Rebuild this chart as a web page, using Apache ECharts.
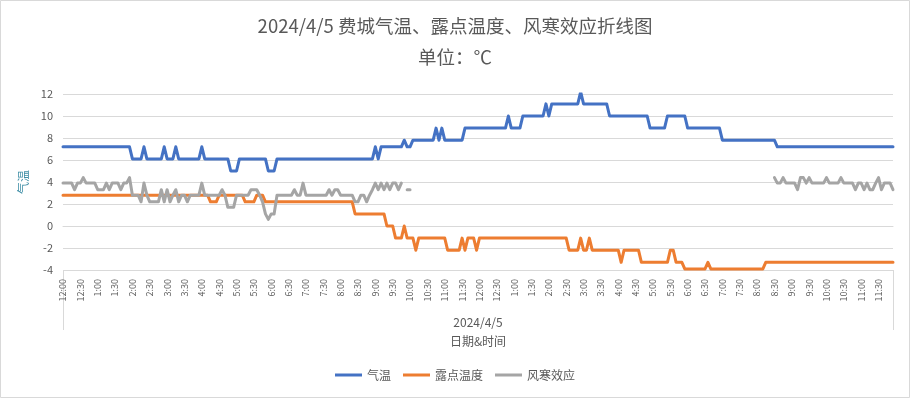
<!DOCTYPE html>
<html>
<head>
<meta charset="utf-8">
<script src="https://cdn.jsdelivr.net/npm/echarts@6/dist/echarts.min.js"></script>
<style>
  body { margin: 0; background: #fff; }
  #main { width: 910px; height: 398px; }
</style>
</head>
<body>
<div id="main"></div>
<script>
// 2024/4/5 费城 每5分钟一个观测值（℃）
var hours = ['12', '1', '2', '3', '4', '5', '6', '7', '8', '9', '10', '11'];
var minutes = ['00', '05', '10', '15', '20', '25', '30', '35', '40', '45', '50', '55'];
var times = [];
for (var d = 0; d < 2; d++) {
	for (var h = 0; h < hours.length; h++) {
		for (var m = 0; m < minutes.length; m++) {
			times.push(hours[h] + ':' + minutes[m]);
		}
	}
}
var dayLabel = ['2024/4/5'];
var legendNames = ['气温', '露点温度', '风寒效应'];

var temp = [
	7.2,7.2,7.2,7.2,7.2,7.2,7.2,7.2,7.2,7.2,7.2,7.2,
	7.2,7.2,7.2,7.2,7.2,7.2,7.2,7.2,7.2,7.2,7.2,7.2,
	6.1,6.1,6.1,6.1,7.2,6.1,6.1,6.1,6.1,6.1,6.1,7.2,
	6.1,6.1,6.1,7.2,6.1,6.1,6.1,6.1,6.1,6.1,6.1,6.1,
	7.2,6.1,6.1,6.1,6.1,6.1,6.1,6.1,6.1,6.1,5.0,5.0,
	5.0,6.1,6.1,6.1,6.1,6.1,6.1,6.1,6.1,6.1,6.1,5.0,
	5.0,5.0,6.1,6.1,6.1,6.1,6.1,6.1,6.1,6.1,6.1,6.1,
	6.1,6.1,6.1,6.1,6.1,6.1,6.1,6.1,6.1,6.1,6.1,6.1,
	6.1,6.1,6.1,6.1,6.1,6.1,6.1,6.1,6.1,6.1,6.1,6.1,
	7.2,6.1,7.2,7.2,7.2,7.2,7.2,7.2,7.2,7.2,7.8,7.2,
	7.2,7.8,7.8,7.8,7.8,7.8,7.8,7.8,7.8,8.9,7.8,8.9,
	7.8,7.8,7.8,7.8,7.8,7.8,7.8,8.9,8.9,8.9,8.9,8.9,
	8.9,8.9,8.9,8.9,8.9,8.9,8.9,8.9,8.9,8.9,10.0,8.9,
	8.9,8.9,8.9,10.0,10.0,10.0,10.0,10.0,10.0,10.0,10.0,11.1,
	10.0,11.1,11.1,11.1,11.1,11.1,11.1,11.1,11.1,11.1,11.1,12.2,
	11.1,11.1,11.1,11.1,11.1,11.1,11.1,11.1,11.1,10.0,10.0,10.0,
	10.0,10.0,10.0,10.0,10.0,10.0,10.0,10.0,10.0,10.0,10.0,8.9,
	8.9,8.9,8.9,8.9,8.9,10.0,10.0,10.0,10.0,10.0,10.0,10.0,
	8.9,8.9,8.9,8.9,8.9,8.9,8.9,8.9,8.9,8.9,8.9,8.9,
	7.8,7.8,7.8,7.8,7.8,7.8,7.8,7.8,7.8,7.8,7.8,7.8,
	7.8,7.8,7.8,7.8,7.8,7.8,7.8,7.2,7.2,7.2,7.2,7.2,
	7.2,7.2,7.2,7.2,7.2,7.2,7.2,7.2,7.2,7.2,7.2,7.2,
	7.2,7.2,7.2,7.2,7.2,7.2,7.2,7.2,7.2,7.2,7.2,7.2,
	7.2,7.2,7.2,7.2,7.2,7.2,7.2,7.2,7.2,7.2,7.2,7.2
];

var dewPoint = [
	2.8,2.8,2.8,2.8,2.8,2.8,2.8,2.8,2.8,2.8,2.8,2.8,
	2.8,2.8,2.8,2.8,2.8,2.8,2.8,2.8,2.8,2.8,2.8,2.8,
	2.8,2.8,2.8,2.8,2.8,2.8,2.8,2.8,2.8,2.8,2.8,2.8,
	2.8,2.8,2.8,2.8,2.8,2.8,2.8,2.8,2.8,2.8,2.8,2.8,
	2.8,2.8,2.8,2.2,2.2,2.2,2.8,2.8,2.8,2.8,2.8,2.8,
	2.8,2.8,2.8,2.2,2.2,2.2,2.2,2.8,2.8,2.8,2.2,2.2,
	2.2,2.2,2.2,2.2,2.2,2.2,2.2,2.2,2.2,2.2,2.2,2.2,
	2.2,2.2,2.2,2.2,2.2,2.2,2.2,2.2,2.2,2.2,2.2,2.2,
	2.2,2.2,2.2,2.2,2.2,1.1,1.1,1.1,1.1,1.1,1.1,1.1,
	1.1,1.1,1.1,1.1,0,0,0,-1.1,-1.1,-1.1,0,-1.1,
	-1.1,-1.1,-2.2,-1.1,-1.1,-1.1,-1.1,-1.1,-1.1,-1.1,-1.1,-1.1,
	-1.1,-2.2,-2.2,-2.2,-2.2,-2.2,-1.1,-2.2,-1.1,-1.1,-1.1,-2.2,
	-1.1,-1.1,-1.1,-1.1,-1.1,-1.1,-1.1,-1.1,-1.1,-1.1,-1.1,-1.1,
	-1.1,-1.1,-1.1,-1.1,-1.1,-1.1,-1.1,-1.1,-1.1,-1.1,-1.1,-1.1,
	-1.1,-1.1,-1.1,-1.1,-1.1,-1.1,-1.1,-2.2,-2.2,-2.2,-2.2,-1.1,
	-2.2,-2.2,-1.1,-2.2,-2.2,-2.2,-2.2,-2.2,-2.2,-2.2,-2.2,-2.2,
	-2.2,-3.3,-2.2,-2.2,-2.2,-2.2,-2.2,-2.2,-3.3,-3.3,-3.3,-3.3,
	-3.3,-3.3,-3.3,-3.3,-3.3,-3.3,-2.2,-2.2,-3.3,-3.3,-3.3,-3.9,
	-3.9,-3.9,-3.9,-3.9,-3.9,-3.9,-3.9,-3.3,-3.9,-3.9,-3.9,-3.9,
	-3.9,-3.9,-3.9,-3.9,-3.9,-3.9,-3.9,-3.9,-3.9,-3.9,-3.9,-3.9,
	-3.9,-3.9,-3.9,-3.3,-3.3,-3.3,-3.3,-3.3,-3.3,-3.3,-3.3,-3.3,
	-3.3,-3.3,-3.3,-3.3,-3.3,-3.3,-3.3,-3.3,-3.3,-3.3,-3.3,-3.3,
	-3.3,-3.3,-3.3,-3.3,-3.3,-3.3,-3.3,-3.3,-3.3,-3.3,-3.3,-3.3,
	-3.3,-3.3,-3.3,-3.3,-3.3,-3.3,-3.3,-3.3,-3.3,-3.3,-3.3,-3.3
];

var windChill = [
	3.9,3.9,3.9,3.9,3.3,3.9,3.9,4.4,3.9,3.9,3.9,3.9,
	3.3,3.3,3.3,3.9,3.3,3.9,3.9,3.9,3.3,3.9,3.9,4.4,
	2.8,2.8,2.8,2.2,3.9,2.8,2.2,2.2,2.2,2.2,3.3,2.2,
	3.3,2.2,2.8,3.3,2.2,2.8,2.8,2.2,2.8,2.8,2.8,2.8,
	3.9,2.8,2.8,2.8,2.8,2.8,2.8,3.3,2.8,1.7,1.7,1.7,
	2.8,2.8,2.8,2.8,2.8,3.3,3.3,3.3,2.8,2.2,1.1,0.6,
	1.1,1.1,2.8,2.8,2.8,2.8,2.8,2.8,3.3,2.8,2.8,3.9,
	2.8,2.8,2.8,2.8,2.8,2.8,2.8,2.8,3.3,2.8,3.3,3.3,
	2.8,2.8,2.8,2.8,2.8,2.2,2.2,2.8,2.8,2.2,2.8,3.3,
	3.9,3.3,3.9,3.3,3.9,3.3,3.9,3.9,3.3,3.9,null,3.3,
	3.3,null,null,null,null,null,null,null,null,null,null,null,
	null,null,null,null,null,null,null,null,null,null,null,null,
	null,null,null,null,null,null,null,null,null,null,null,null,
	null,null,null,null,null,null,null,null,null,null,null,null,
	null,null,null,null,null,null,null,null,null,null,null,null,
	null,null,null,null,null,null,null,null,null,null,null,null,
	null,null,null,null,null,null,null,null,null,null,null,null,
	null,null,null,null,null,null,null,null,null,null,null,null,
	null,null,null,null,null,null,null,null,null,null,null,null,
	null,null,null,null,null,null,null,null,null,null,null,null,
	null,null,null,null,null,null,4.4,3.9,3.9,4.4,3.9,3.9,
	3.9,3.9,3.3,4.4,4.4,3.9,4.4,3.9,3.9,3.9,3.9,3.9,
	4.4,3.9,3.9,3.9,3.9,4.4,3.9,3.9,3.9,3.9,3.3,3.9,
	3.9,3.3,3.9,3.3,3.3,3.9,4.4,3.3,3.9,3.9,3.9,3.3
];

var font = 'Noto Sans CJK SC';
var textColor = '#595959';
var gridColor = '#d9d9d9';

function lineSeries(name, data, color) {
	return {
		name: name,
		type: 'line',
		data: data,
		xAxisIndex: 0,
		showSymbol: false,
		connectNulls: false,
		lineStyle: { width: 3, color: color, cap: 'round', join: 'round' },
		itemStyle: { color: color },
		animation: false
	};
}

var myChart = echarts.init(document.getElementById('main'));
var option = {
	backgroundColor: '#fff',
	textStyle: { fontFamily: font },
	title: {
		text: '2024/4/5 费城气温、露点温度、风寒效应折线图',
		subtext: '单位：℃',
		left: 'center',
		top: 12,
		itemGap: 12,
		textStyle: { fontFamily: font, fontSize: 18.5, fontWeight: 'normal', color: textColor },
		subtextStyle: { fontFamily: font, fontSize: 18.5, color: textColor }
	},
	legend: {
		data: legendNames,
		bottom: 12,
		left: 'center',
		icon: 'rect',
		itemWidth: 27,
		itemHeight: 3,
		itemGap: 12,
		textStyle: { fontFamily: font, fontSize: 12, color: textColor }
	},
	grid: { left: 63, right: 17, top: 94, bottom: 128, containLabel: false },
	xAxis: [
		{
			type: 'category',
			data: times,
			boundaryGap: false,
			axisLine: { lineStyle: { color: gridColor, width: 1 } },
			axisTick: { show: false },
			axisLabel: { interval: 5, rotate: 90, fontSize: 9, color: textColor, margin: 9, fontFamily: font },
			splitLine: { show: false }
		},
		{
			type: 'category',
			data: dayLabel,
			position: 'bottom',
			boundaryGap: true,
			axisLine: { show: false },
			axisTick: { show: true, length: 60, lineStyle: { color: gridColor } },
			axisLabel: { fontSize: 12, color: textColor, margin: 46, fontFamily: font },
			name: '日期&时间',
			nameLocation: 'middle',
			nameGap: 65,
			nameTextStyle: { fontSize: 12, color: textColor, fontFamily: font }
		}
	],
	yAxis: {
		type: 'value',
		min: -4,
		max: 12,
		interval: 2,
		name: '气温',
		nameLocation: 'middle',
		nameRotate: 90,
		nameGap: 34,
		nameTextStyle: { fontSize: 12, color: '#3f8ea6', fontFamily: font },
		axisLine: { show: false },
		axisTick: { show: false },
		axisLabel: { fontSize: 11, color: textColor, margin: 10, fontFamily: font },
		splitLine: { lineStyle: { color: gridColor, width: 1 } }
	},
	graphic: [
		{
			type: 'rect',
			shape: { x: 0.5, y: 0.5, width: 909, height: 397 },
			style: { fill: null, stroke: gridColor, lineWidth: 1 },
			silent: true
		}
	],
	series: [
		lineSeries(legendNames[0], temp, '#4472c4'),
		lineSeries(legendNames[1], dewPoint, '#ed7d31'),
		lineSeries(legendNames[2], windChill, '#a5a5a5')
	]
};
myChart.setOption(option);
</script>
</body>
</html>
